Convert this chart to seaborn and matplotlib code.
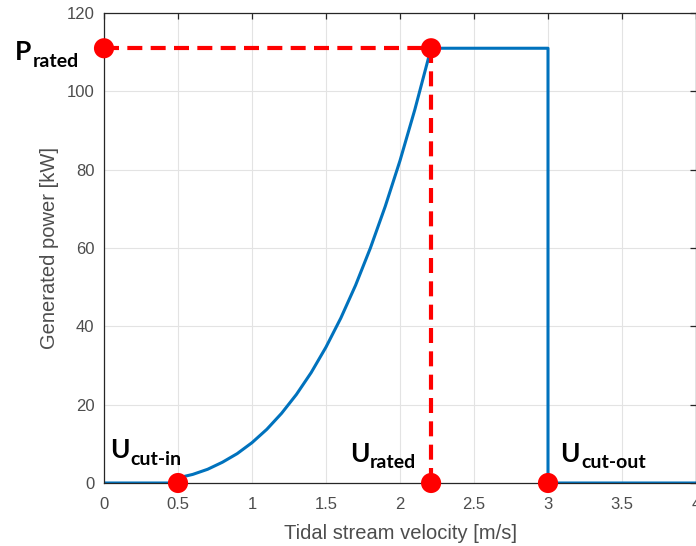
import numpy as np
import pandas as pd
import matplotlib
matplotlib.use("Agg")
import matplotlib.pyplot as plt
import seaborn as sns

sns.set_theme(style="white")
plt.rcParams['font.family'] = ['Liberation Sans', 'DejaVu Sans']

# power curve
velocity = [0.0, 0.5, 0.5, 0.6, 0.7, 0.8, 0.9, 1.0, 1.1, 1.2, 1.3, 1.4, 1.5,
            1.6, 1.7, 1.8, 1.9, 2.0, 2.1, 2.21, 3.0, 3.0, 4.0]
power = [0.0, 0.0, 1.3, 2.2, 3.5, 5.3, 7.5, 10.3, 13.7, 17.8, 22.6, 28.2, 34.7,
         42.1, 50.5, 60.0, 70.6, 82.3, 95.3, 111.0, 111.0, 0.0, 0.0]

u_cut_in = 0.5
u_rated = 2.21
u_cut_out = 3.0
p_rated = 111.0

marker_x = [0.0, u_rated, u_cut_in, u_rated, u_cut_out]
marker_y = [p_rated, p_rated, 0.0, 0.0, 0.0]

curve = pd.DataFrame({"velocity": velocity, "power": power})
markers = pd.DataFrame({"x": marker_x, "y": marker_y})

fig = plt.figure(figsize=(6.96, 5.46), dpi=100)
ax = fig.add_axes([104 / 696, 63 / 546, 592 / 696, 470 / 546])

sns.lineplot(data=curve, x="velocity", y="power", sort=False, estimator=None,
             color="#0072BD", linewidth=2.2, ax=ax)

# rated lines
ax.plot([0, u_rated], [p_rated, p_rated], color="red", lw=3, dashes=(3.6, 2), zorder=4)
ax.plot([u_rated, u_rated], [p_rated, 0], color="red", lw=3, dashes=(3.6, 2), zorder=4)

sns.scatterplot(data=markers, x="x", y="y", color="red", s=210,
                edgecolor="none", zorder=5, ax=ax)
for c in ax.collections:
    c.set_clip_on(False)

ax.set_xlim(0, 4)
ax.set_ylim(0, 120)
ax.set_xticks(np.arange(0, 4.01, 0.5))
ax.set_xticklabels(["0", "0.5", "1", "1.5", "2", "2.5", "3", "3.5", "4"])
ax.set_yticks(np.arange(0, 121, 20))
ax.grid(True, color="#e3e3e3", linewidth=0.8)
ax.set_axisbelow(True)
for s in ax.spines.values():
    s.set_color("#262626")
    s.set_linewidth(0.9)
ax.tick_params(direction="in", length=4, width=0.9, color="#262626",
               top=True, right=True, labelsize=12, labelcolor="#4d4d4d")
ax.tick_params(axis="x", pad=10)
ax.tick_params(axis="y", pad=7)
ax.set_xlabel("Tidal stream velocity [m/s]", fontsize=14.5, color="#4d4d4d", labelpad=9)
ax.set_ylabel("Generated power [kW]", fontsize=14.5, color="#4d4d4d", labelpad=5)

big = dict(fontsize=19, fontweight="bold", family=["Lato", "DejaVu Sans"],
           color="black", va="baseline", ha="left")
small = dict(fontsize=14, fontweight="bold", family=["Lato", "DejaVu Sans"],
             color="black", va="baseline", ha="left")

def label(x0, yb, main, sub, xs, ys):
    fig.text(x0 / 696, 1 - yb / 546, main, **big)
    fig.text(xs / 696, 1 - ys / 546, sub, **small)

label(15, 60, "P", "rated", 33, 67)
label(110, 458, "U", "cut-in", 130, 465)
label(350, 462, "U", "rated", 370, 468)
label(560, 462, "U", "cut-out", 581, 468)

fig.savefig("out.png", dpi=100)
